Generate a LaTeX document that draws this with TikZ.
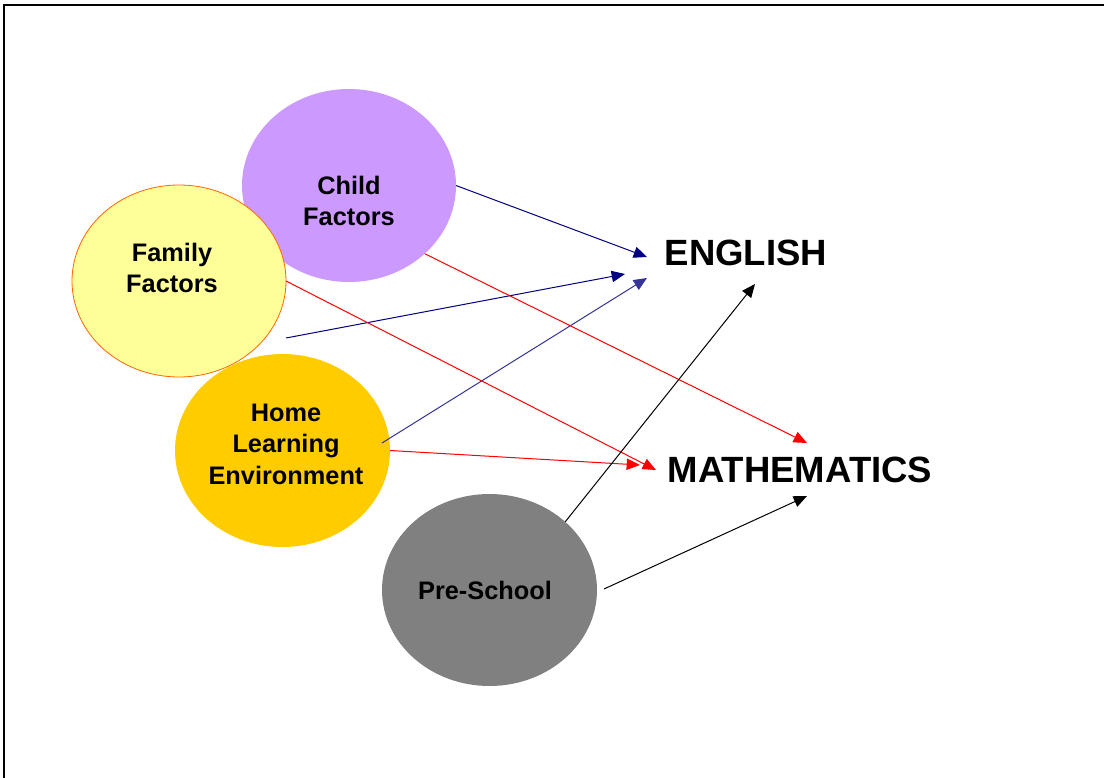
\documentclass[tikz,border=0pt]{standalone}
\usepackage{fontspec}
\setmainfont{Liberation Sans}
\usetikzlibrary{arrows.meta,shapes.geometric}
\definecolor{cpurple}{HTML}{CC99FF}
\definecolor{cyellow}{HTML}{FFFF99}
\definecolor{corange}{HTML}{FF6600}
\definecolor{cgold}{HTML}{FFCC00}
\definecolor{cgray}{HTML}{808080}
\definecolor{cnavy}{HTML}{000080}
\definecolor{cblue}{HTML}{333399}
\definecolor{cred}{HTML}{FF0000}
\tikzset{
  blob/.style={ellipse, inner sep=0pt, outer sep=0pt},
  lbl/.style={align=center, font=\fontsize{19}{23.6}\selectfont\bfseries, inner sep=0pt},
  big/.style={font=\fontsize{27.4}{32}\selectfont\bfseries, inner sep=0pt},
  conn/.style={line width=0.75pt, -{Triangle[length=10pt,width=8.5pt]}},
}
\begin{document}
\begin{tikzpicture}[x=0.75pt,y=-0.75pt]
\useasboundingbox (0,0) rectangle (1104,778);
\draw[line width=1.5pt] (4,779) -- (4,4.5) -- (1110,4.5);
% ellipses
\node[blob, fill=cpurple, minimum width=160.5pt, minimum height=144.75pt] (child) at (349,185.5) {};
\node[blob, fill=cgold, minimum width=161.25pt, minimum height=144.75pt] (home) at (282.5,450.5) {};
\node[blob, fill=cyellow, draw=corange, line width=0.6pt, minimum width=160.5pt, minimum height=144pt] (family) at (179,281) {};
\node[blob, fill=cgray, minimum width=161.25pt, minimum height=144pt] (pre) at (489.5,590) {};
% labels
\node[lbl] (childT) at (349,201) {Child\\Factors};
\node[lbl] (familyT) at (172,268) {Family\\Factors};
\node[lbl] (homeT) at (286,444) {Home\\Learning\\Environment};
\node[lbl] (preT) at (485,590) {Pre-School};
\node[big] (eng) at (746,253) {ENGLISH};
\node[big] (math) at (800,470) {MATHEMATICS};
% connector points
\coordinate (famE) at (286,338);
\coordinate (homeE) at (382,443);
\coordinate (preE) at (604,589);
\coordinate (e1) at (647,257);
\coordinate (e2) at (625,274);
\coordinate (e3) at (647,278);
\coordinate (e4) at (755,284);
\coordinate (m1) at (807,443);
\coordinate (m2) at (656,470);
\coordinate (m3) at (640,465);
\coordinate (m4) at (807,496);
% connectors
\draw[conn, cnavy] (child.east) -- (e1);
\draw[conn, cnavy] (famE) -- (e2);
\draw[conn, cblue] (homeE) -- (e3);
\draw[conn, cred] (child.-42) -- (m1);
\draw[conn, cred] (family.east) -- (m2);
\draw[conn, cred] (home.east) -- (m3);
\draw[conn, black] (pre.42) -- (e4);
\draw[conn, black] (preE) -- (m4);
\end{tikzpicture}
\end{document}
